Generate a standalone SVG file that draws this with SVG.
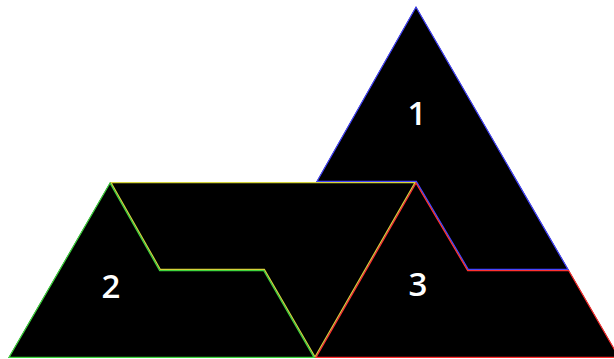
<svg xmlns="http://www.w3.org/2000/svg" width="614" height="359" viewBox="0 0 614 359">
<style>
.p{fill:#000;stroke-width:2.4;stroke-linejoin:miter}
.lbl{fill:#fff;font-family:"Open Sans","Noto Sans",sans-serif;font-size:33px;font-weight:600;text-anchor:middle}
</style>
<defs>
<clipPath id="cy"><polygon points="110,182 416,182 315,358 264,270 160,270"/></clipPath>
<clipPath id="c1"><polygon points="416,6 569,270 468,270 416,182 316,182"/></clipPath>
<clipPath id="c2"><polygon points="110,182 160,270 264,270 315,358 8,358"/></clipPath>
<clipPath id="c3"><polygon points="416,182 468,270 569,270 620,358 315,358"/></clipPath>
</defs>
<rect width="614" height="359" fill="#fff"/>
<g id="piece-yellow">
<polygon class="p" stroke="#d4d43a" clip-path="url(#cy)" points="110,182 416,182 315,358 264,270 160,270"/>
</g>
<g id="piece-1">
<polygon class="p" stroke="#4545ff" clip-path="url(#c1)" points="416,6 569,270 468,270 416,182 316,182"/>
<text class="lbl" x="417" y="125">1</text>
</g>
<g id="piece-2">
<polygon class="p" stroke="#3ed43e" clip-path="url(#c2)" points="110,182 160,270 264,270 315,358 8,358"/>
<text class="lbl" x="111" y="298">2</text>
</g>
<g id="piece-3">
<polygon class="p" stroke="#ff3030" clip-path="url(#c3)" points="416,182 468,270 569,270 620,358 315,358"/>
<text class="lbl" x="418" y="296">3</text>
</g>
<g id="connectors"></g>
</svg>
